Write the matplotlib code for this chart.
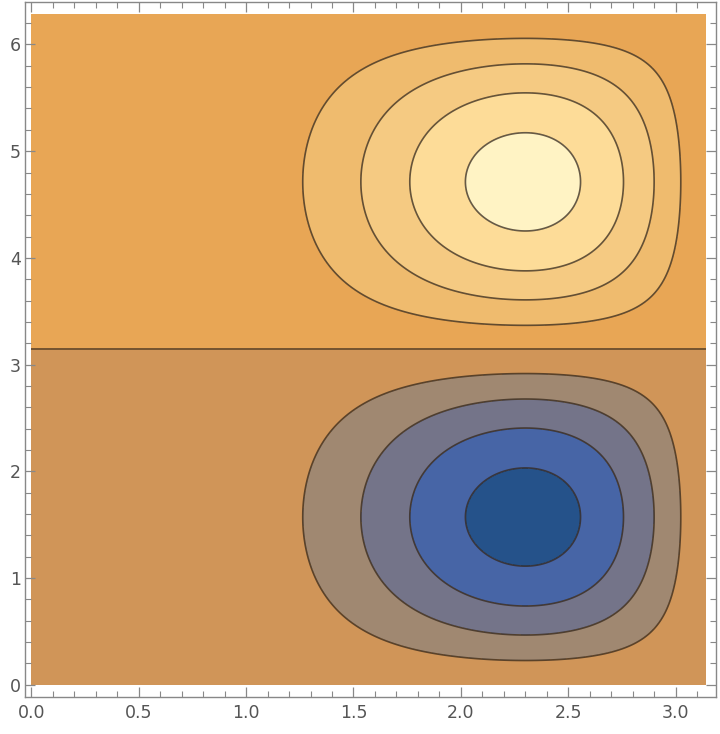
import numpy as np
import matplotlib
matplotlib.use("Agg")
import matplotlib.pyplot as plt
from matplotlib.ticker import MultipleLocator, FormatStrFormatter

# contour levels (value units)
levels = [-1.855, -1.391, -0.928, -0.464, 0.0, 0.464, 0.928, 1.391, 1.855]
band_colors = ["#25528a", "#4765a6", "#747489", "#a08871", "#d09558",
               "#e8a655", "#efbb6e", "#f5ca82", "#fddc98", "#fff3c4"]
x_ticks = [0.0, 0.5, 1.0, 1.5, 2.0, 2.5, 3.0]
y_ticks = [0, 1, 2, 3, 4, 5, 6]

x = np.linspace(1e-4, np.pi - 1e-4, 500)
y = np.linspace(1e-4, 2 * np.pi - 1e-4, 800)
X, Y = np.meshgrid(x, y)
Z = -np.sin(X) * (1 - np.cos(X)) ** 2 * np.sin(Y)

fig = plt.figure(figsize=(7.2, 7.34), dpi=100)
ax = fig.add_axes([25 / 720, 37 / 734, 691 / 720, 695 / 734])
full_levels = [-10] + levels + [10]
ax.contourf(X, Y, Z, levels=full_levels, colors=band_colors)
ax.contour(X, Y, Z, levels=levels, colors=[(0.2, 0.15, 0.1, 0.75)],
           linewidths=1.2, linestyles="solid")

ax.set_xlim(-0.030, np.pi + 0.047)
ax.set_ylim(-0.116, 2 * np.pi + 0.115)
ax.set_xticks(x_ticks)
ax.set_yticks(y_ticks)
ax.xaxis.set_major_formatter(FormatStrFormatter("%.1f"))
ax.yaxis.set_major_formatter(FormatStrFormatter("%d"))
ax.xaxis.set_minor_locator(MultipleLocator(0.1))
ax.yaxis.set_minor_locator(MultipleLocator(0.2))
ax.tick_params(which="both", direction="in", top=True, right=True,
               color="#888888", labelcolor="#555555", labelsize=12.5)
ax.tick_params(which="major", length=7, width=0.9)
ax.tick_params(which="minor", length=4, width=0.8)
for s in ax.spines.values():
    s.set_color("#888888")
    s.set_linewidth(1.0)
ax.tick_params(axis="x", pad=5)
ax.tick_params(axis="y", pad=3)

fig.savefig("out.png", dpi=100)
